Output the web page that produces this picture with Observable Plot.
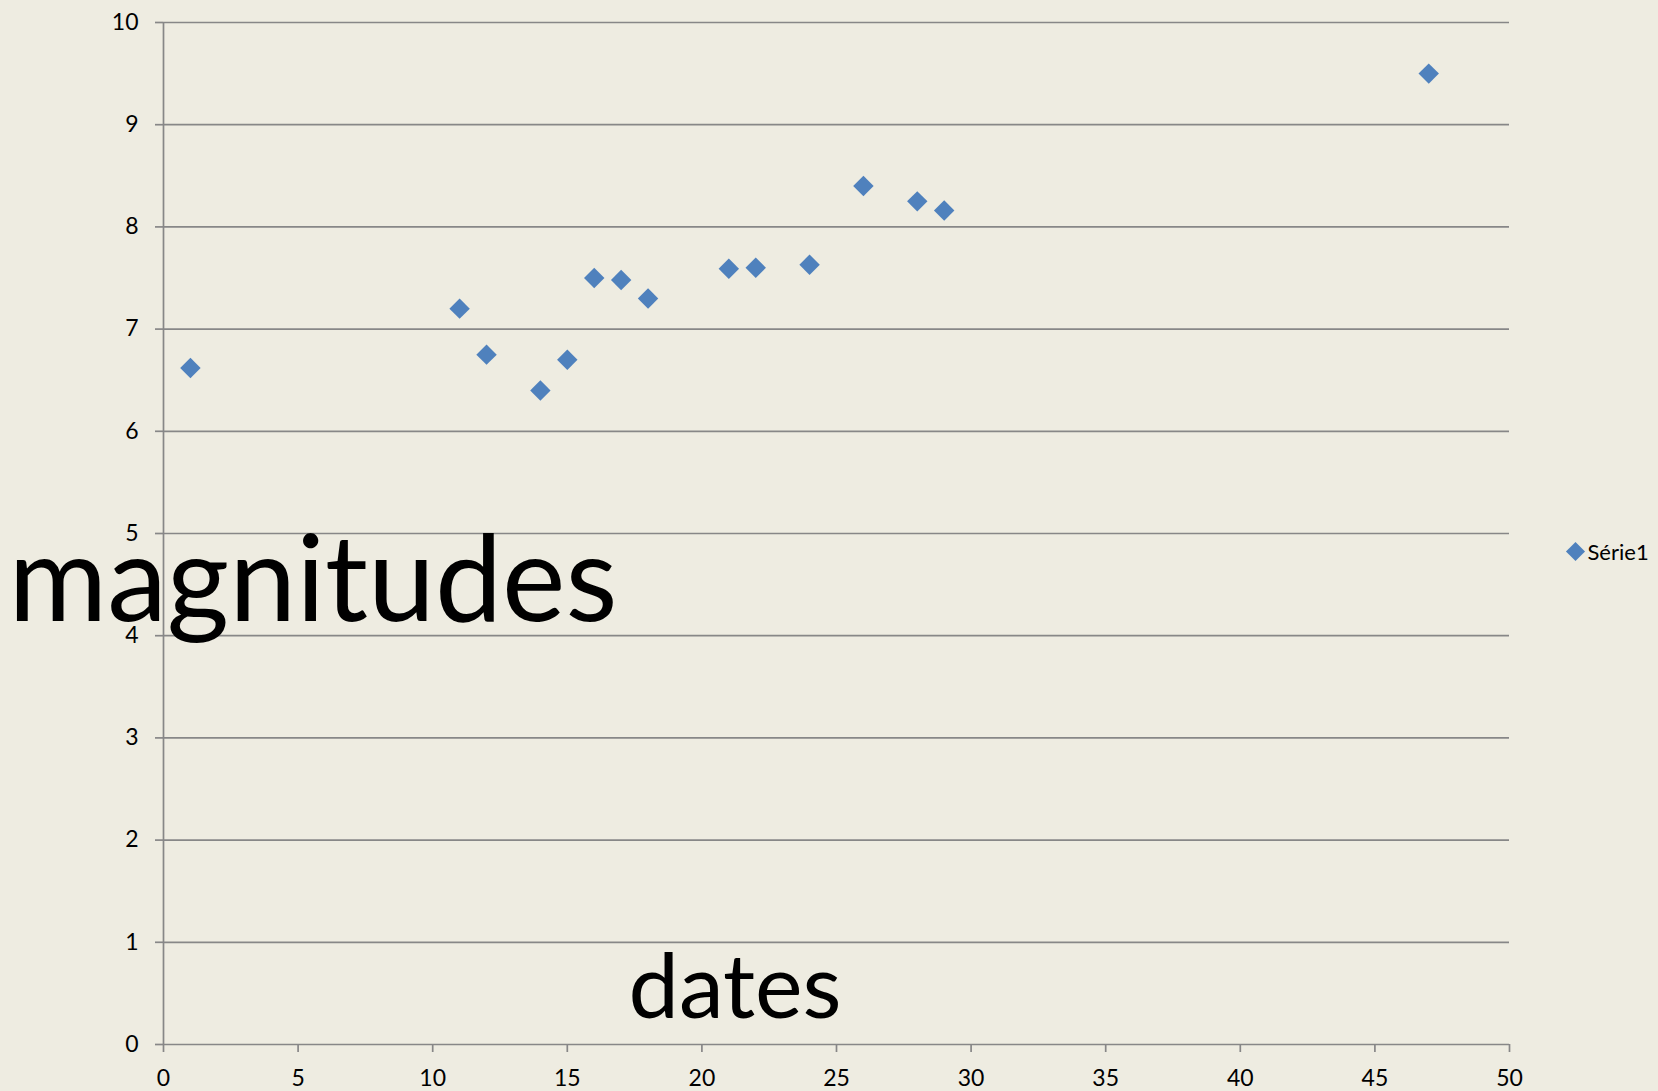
<!DOCTYPE html>
<html>
<head>
<meta charset="utf-8">
<script src="https://cdn.jsdelivr.net/npm/d3@7"></script>
<script src="https://cdn.jsdelivr.net/npm/@observablehq/plot@0.6"></script>
<style>
  html, body { margin: 0; padding: 0; background: #EEECE1; }
  #chart { width: 1658px; height: 1091px; overflow: hidden; }
</style>
</head>
<body>
<div id="chart"></div>
<script>
// Data
const dates = [1, 11, 12, 14, 15, 16, 17, 18, 21, 22, 24, 26, 28, 29, 47];
const magnitudes = [6.62, 7.2, 6.75, 6.4, 6.7, 7.5, 7.48, 7.3, 7.59, 7.6, 7.63, 8.4, 8.25, 8.16, 9.5];
const seriesName = "Série1";
const xTicks = [0, 5, 10, 15, 20, 25, 30, 35, 40, 45, 50];
const yTicks = [0, 1, 2, 3, 4, 5, 6, 7, 8, 9, 10];
const xTitle = "dates";
const yTitle = "magnitudes";

const data = dates.map((d, i) => ({date: d, magnitude: magnitudes[i]}));

const gridColor = "#878787";
const pointColor = "#4F81BD";

const chart = Plot.plot({
  width: 1658,
  height: 1091,
  marginLeft: 163,
  marginRight: 149,
  marginTop: 22,
  marginBottom: 47,
  style: {
    background: "#EEECE1",
    fontFamily: "Lato, 'Open Sans', sans-serif",
    fontSize: "23px",
    color: "black",
    overflow: "visible"
  },
  x: {domain: [0, 50]},
  y: {domain: [0, 10]},
  marks: [
    Plot.ruleY(yTicks, {stroke: gridColor, strokeWidth: 1.7}),
    Plot.ruleX([0], {stroke: gridColor, strokeWidth: 1.7}),
    Plot.axisX({ticks: xTicks, tickSize: 8, tickPadding: 17, stroke: gridColor, strokeWidth: 1.7, fill: "black", label: null}),
    Plot.axisY({ticks: yTicks, tickSize: 8, tickPadding: 17, stroke: gridColor, strokeWidth: 1.7, fill: "black", label: null}),
    Plot.dot(data, {x: "date", y: "magnitude", symbol: "diamond2", r: 9.2, fill: pointColor}),
    // axis titles as placed in the original
    Plot.text([yTitle], {frameAnchor: "left", lineAnchor: "middle", textAnchor: "start", dx: -155, dy: 49, fontSize: 120, fill: "black"}),
    Plot.text([xTitle], {frameAnchor: "bottom", lineAnchor: "bottom", textAnchor: "start", dx: -208, dy: -27, fontSize: 90, fill: "black"}),
    // legend
    Plot.dot([seriesName], {frameAnchor: "right", dx: 66, dy: 18, symbol: "diamond2", r: 8.6, fill: pointColor}),
    Plot.text([seriesName], {frameAnchor: "right", textAnchor: "start", dx: 78, dy: 19, fontSize: 22, fill: "black"})
  ]
});

document.getElementById("chart").appendChild(chart);
</script>
</body>
</html>
